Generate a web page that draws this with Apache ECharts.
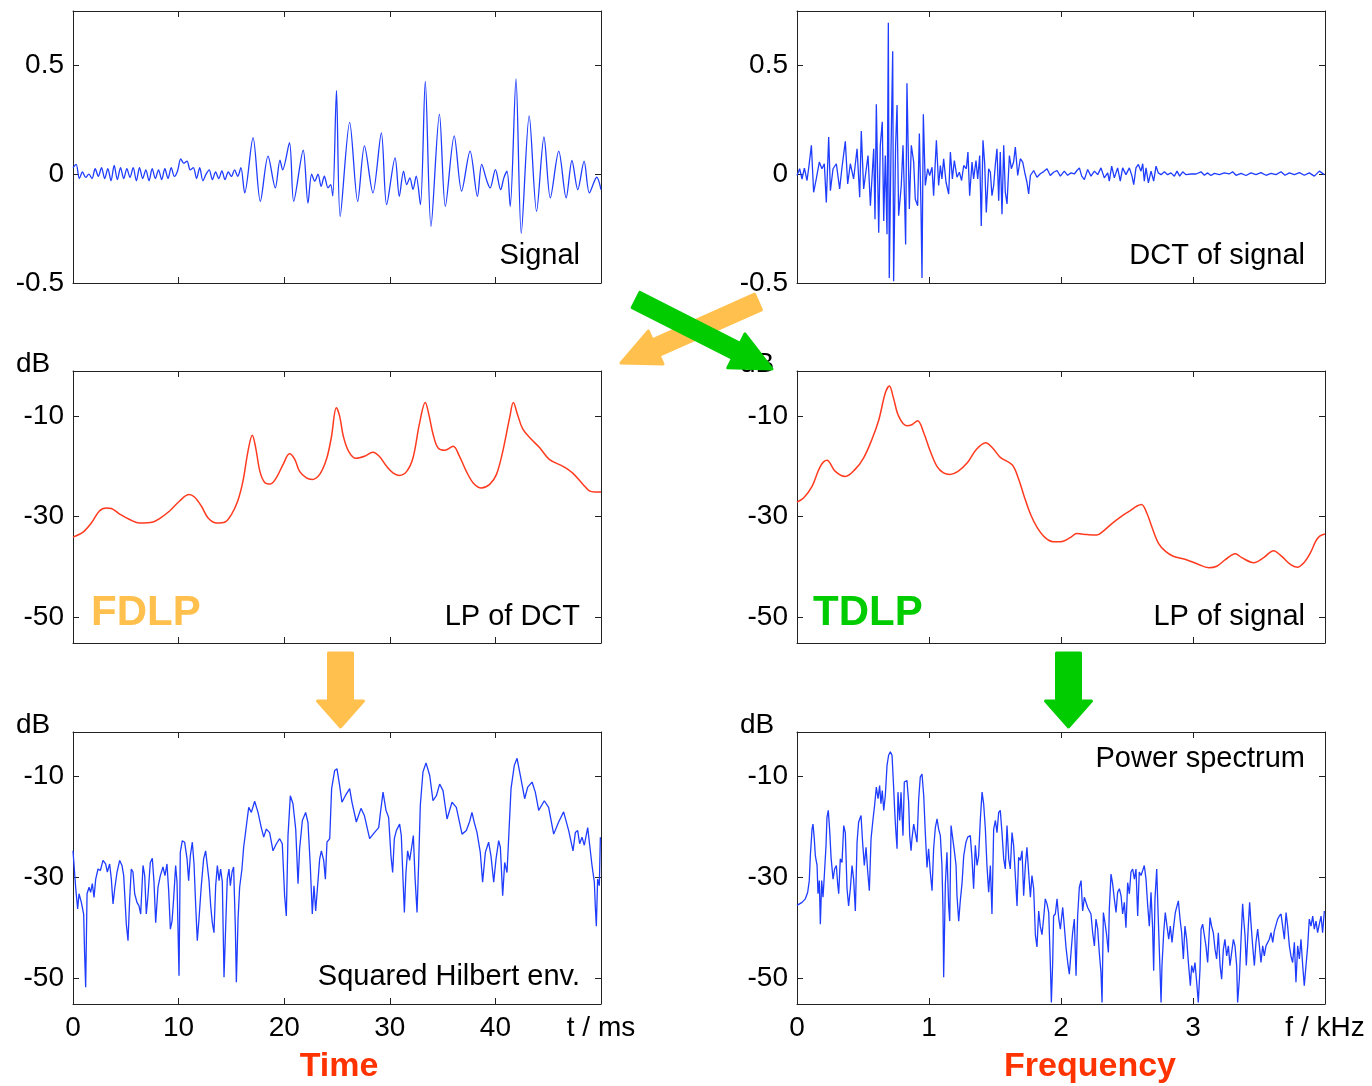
<!DOCTYPE html>
<html>
<head>
<meta charset="utf-8">
<script src="https://cdn.jsdelivr.net/npm/echarts@6/dist/echarts.min.js"></script>
<style>
  html, body { margin: 0; padding: 0; background: #fff; }
  #chart { width: 1372px; height: 1086px; }
</style>
</head>
<body>
<div id="chart"></div>
<script>
// ---- tick labels ----
const timeTicks = [0, 10, 20, 30, 40, 50];
const freqTicks = [0, 1, 2, 3, 4];
const sigTicks = [-0.5, 0, 0.5];
const dbTicks = [-50, -30, -10];

// ---- Signal (t in ms) ----
const sigT = [0, 0.3, 0.6, 0.9, 1.2, 1.5, 1.8, 2.1, 2.4, 2.7, 3.0, 3.3, 3.6, 3.9, 4.2, 4.5, 4.8, 5.1, 5.4, 5.7,
  6.0, 6.3, 6.6, 6.9, 7.2, 7.5, 7.8, 8.1, 8.4, 8.7, 9.0, 9.3, 9.6, 9.9, 10.2, 10.5, 10.8, 11.1, 11.4, 11.7,
  12.0, 12.3, 12.6, 12.9, 13.2, 13.5, 13.8, 14.1, 14.4, 14.7, 15.0, 15.3, 15.6, 15.9,
  16.26, 17.05, 17.74, 18.47, 19.16, 19.6, 19.85, 20.5, 20.9, 21.8, 22.25, 22.6, 22.9, 23.2, 23.5, 23.8, 24.15, 24.4, 24.6,
  24.95, 25.3, 26.2, 26.96, 27.6, 28.4, 29.2, 29.7, 30.5, 30.9, 31.3, 31.6, 31.9, 32.2, 32.5, 32.9,
  33.36, 33.9, 34.7, 35.26, 36.1, 36.8, 37.6, 38.3, 38.7, 39.2, 39.5, 40.0, 40.5, 40.8, 41.1, 41.4,
  41.95, 42.45, 43.2, 43.9, 44.6, 45.2, 46.0, 46.7, 47.25, 47.8, 48.4, 48.9, 49.6, 50.0];
const sigV = [0.03, 0.045, -0.02, 0.01, -0.015, 0.0, -0.02, 0.025, -0.01, 0.03, -0.02, 0.025, -0.03, 0.04, -0.025, 0.03, -0.02, 0.025, -0.015, 0.03,
  -0.03, 0.03, -0.02, 0.02, -0.03, 0.025, -0.02, 0.02, -0.025, 0.025, -0.02, 0.03, -0.01, 0.015, 0.07, 0.05, 0.06, 0.02, 0.03, -0.02,
  0.03, -0.03, 0.0, 0.02, -0.025, 0.01, -0.02, 0.015, -0.025, 0.01, -0.01, 0.02, -0.01, 0.03,
  -0.086, 0.168, -0.125, 0.083, -0.063, 0.065, 0.02, 0.145, -0.125, 0.11, -0.133, 0.0, -0.032, 0.0, -0.056, -0.009, -0.063, -0.048, -0.1,
  0.385, -0.194, 0.238, -0.125, 0.13, -0.086, 0.19, -0.14, 0.075, -0.102, 0.014, -0.048, -0.017, -0.07, -0.009, -0.14,
  0.427, -0.24, 0.276, -0.148, 0.176, -0.078, 0.106, -0.102, 0.045, -0.032, -0.063, 0.021, -0.071, -0.017, 0.014, -0.148,
  0.438, -0.272, 0.268, -0.171, 0.171, -0.109, 0.106, -0.109, 0.063, -0.071, 0.06, -0.086, -0.014, -0.071];

// ---- DCT of signal (kHz) ----
const dctF = [0, 0.02, 0.038, 0.056, 0.076, 0.091, 0.109, 0.126, 0.146, 0.169, 0.189, 0.207, 0.222, 0.24, 0.253, 0.273, 0.298,
  0.323, 0.341, 0.366, 0.384, 0.404, 0.429, 0.455, 0.475, 0.487, 0.505, 0.538, 0.556, 0.581, 0.591, 0.601, 0.619, 0.631,
  0.646, 0.657, 0.669, 0.682, 0.692, 0.699, 0.712, 0.725, 0.732, 0.747, 0.758, 0.77, 0.79, 0.803, 0.816, 0.823, 0.833,
  0.851, 0.866, 0.884, 0.896, 0.914, 0.927, 0.939, 0.947, 0.957, 0.972, 0.99, 1.005, 1.023, 1.035, 1.056, 1.073, 1.086,
  1.098, 1.111, 1.129, 1.149, 1.162, 1.177, 1.192, 1.212, 1.23, 1.247, 1.263, 1.283, 1.295, 1.308, 1.326, 1.338, 1.356,
  1.369, 1.384, 1.396, 1.409, 1.422, 1.434, 1.452, 1.465, 1.477, 1.49, 1.503, 1.515, 1.528, 1.54, 1.553, 1.566, 1.578,
  1.591, 1.609, 1.624, 1.641, 1.654, 1.672, 1.692, 1.71, 1.725, 1.742, 1.755, 1.768, 1.793, 1.818, 1.843, 1.869, 1.894,
  1.919, 1.944, 1.97, 1.995, 2.025, 2.05, 2.076, 2.101, 2.121, 2.139, 2.157, 2.177, 2.202, 2.227, 2.253, 2.278, 2.303,
  2.328, 2.354, 2.366, 2.384, 2.404, 2.429, 2.449, 2.467, 2.492, 2.518, 2.538, 2.551, 2.568, 2.586, 2.606, 2.619, 2.631,
  2.644, 2.662, 2.682, 2.702, 2.72, 2.737, 2.758, 2.783, 2.808, 2.833, 2.859, 2.879, 2.899, 2.922, 2.947, 2.985, 3.023,
  3.061, 3.086, 3.111, 3.136, 3.162, 3.2, 3.237, 3.275, 3.3, 3.326, 3.364, 3.402, 3.439, 3.477, 3.515, 3.553, 3.591,
  3.629, 3.667, 3.697, 3.73, 3.768, 3.806, 3.843, 3.881, 3.919, 3.957, 3.995];
const dctV = [-0.006, 0.025, -0.022, 0.028, -0.029, 0.04, 0.133, -0.083, -0.022, 0.056, 0.025, 0.048, -0.13, 0.171, -0.076, 0.025, 0.048,
  -0.068, 0.032, 0.151, -0.045, 0.048, -0.022, 0.117, -0.106, 0.198, -0.068, 0.086, -0.145, 0.117, -0.207, 0.321, -0.269, 0.133,
  0.241, -0.215, 0.086, -0.276, 0.696, -0.477, 0.102, 0.565, -0.492, 0.133, 0.318, -0.191, -0.052, 0.133, -0.137, -0.323, 0.418,
  -0.16, 0.133, 0.056, -0.114, -0.145, 0.187, -0.145, -0.477, 0.275, -0.052, 0.025, -0.006, 0.032, -0.099, 0.156, -0.052, 0.04,
  -0.022, 0.071, -0.037, -0.091, 0.102, -0.022, 0.063, -0.014, 0.009, -0.029, 0.04, 0.025, 0.102, -0.099, 0.056, -0.022, 0.063,
  -0.022, 0.086, -0.238, 0.156, 0.048, -0.176, 0.025, 0.009, -0.099, -0.052, 0.048, 0.117, -0.122, 0.102, -0.184, 0.133, -0.083,
  -0.137, 0.086, 0.025, 0.056, 0.125, -0.006, 0.071, 0.056, 0.009, -0.037, -0.091, -0.006, 0.017, -0.014, 0.002, 0.012, 0.025,
  -0.006, 0.009, 0.017, -0.009, 0.014, -0.005, 0.006, 0.001, 0.017, 0.029, -0.009, -0.025, 0.022, -0.009, 0.014, -0.002, 0.029,
  -0.017, 0.006, -0.032, 0.037, -0.017, 0.029, -0.032, 0.029, -0.002, 0.029, -0.009, -0.048, 0.029, 0.045, 0.014, 0.048, -0.032,
  0.029, -0.04, 0.014, -0.032, 0.037, 0.006, -0.002, 0.011, -0.002, 0.006, -0.009, 0.014, -0.009, 0.011, -0.002, 0.001, 0.001,
  0.011, -0.005, 0.006, -0.006, 0.004, -0.002, 0.006, 0.001, 0.011, -0.005, 0.004, -0.006, 0.006, -0.002, 0.007, -0.005, 0.004,
  -0.002, 0.011, -0.005, 0.006, -0.002, 0.007, -0.005, 0.006, -0.009, 0.014, -0.002];

// ---- LP of DCT (dB over time) ----
const lpdT = [0, 0.95, 1.74, 2.5, 3.16, 3.63, 4.42, 5.37, 6.31, 7.58, 8.2, 9.15, 10.1, 10.98, 11.5, 12.15, 12.8, 13.6, 14.4,
  15.0, 15.6, 16.1, 16.57, 16.98, 17.3, 17.7, 18.15, 18.7, 19.25, 19.9, 20.5, 21.0, 21.46, 22.1, 22.66, 23.36, 24.0, 24.46,
  24.94, 25.25, 25.6, 26.1, 26.8, 27.6, 28.4, 29.0, 29.7, 30.3, 30.9, 31.6, 32.2, 32.8, 33.36, 33.7, 34.1, 34.56, 35.2, 36.0,
  36.6, 37.25, 37.9, 38.67, 39.46, 40.1, 40.7, 41.35, 41.7, 42.1, 42.6, 43.4, 44.2, 45.1, 46.4, 47.3, 48.3, 48.9, 49.4, 50];
const lpdV = [-34.1, -33.1, -31.3, -28.9, -28.3, -28.4, -29.5, -30.6, -31.3, -31.1, -30.4, -28.9, -26.9, -25.6, -26.1, -27.9, -30.3, -31.3, -31.1,
  -29.6, -26.9, -22.9, -17.0, -13.8, -16.3, -21.0, -23.2, -23.5, -22.3, -19.6, -17.5, -18.6, -21.0, -22.3, -22.6, -21.6, -18.6, -14.3,
  -8.3, -10.0, -14.0, -17.0, -18.4, -18.0, -17.2, -18.0, -20.0, -21.3, -21.8, -21.0, -18.3, -11.6, -7.3, -9.7, -13.6, -16.3, -16.8, -16.0,
  -18.0, -21.0, -23.3, -24.3, -23.6, -21.6, -17.0, -10.3, -7.3, -9.7, -12.6, -14.6, -16.3, -18.6, -20.0, -21.3, -23.6, -24.9, -25.1, -25.1];

// ---- LP of signal (dB over frequency) ----
const lpsF = [0, 0.05, 0.114, 0.177, 0.227, 0.29, 0.366, 0.44, 0.505, 0.568, 0.62, 0.67, 0.7, 0.73, 0.77, 0.83, 0.87, 0.914, 0.96,
  1.01, 1.06, 1.11, 1.16, 1.22, 1.29, 1.36, 1.43, 1.48, 1.54, 1.63, 1.68, 1.72, 1.77, 1.82, 1.88, 1.94, 2.0, 2.07, 2.12, 2.2,
  2.27, 2.32, 2.39, 2.45, 2.525, 2.576, 2.61, 2.65, 2.69, 2.74, 2.79, 2.85, 2.95, 3.03, 3.12, 3.18, 3.245, 3.32, 3.37, 3.46,
  3.535, 3.61, 3.67, 3.74, 3.79, 3.84, 3.89, 3.93, 3.96, 4.0];
const lpsV = [-27.1, -26.3, -24.0, -20.0, -18.8, -21.0, -22.0, -20.6, -18.3, -14.6, -10.7, -5.3, -4.0, -6.3, -10.0, -11.9, -11.7, -10.9, -13.3,
  -17.0, -20.0, -21.3, -21.6, -21.0, -19.3, -16.6, -15.3, -16.3, -18.2, -19.7, -22.6, -25.9, -29.6, -32.2, -34.2, -35.0, -35.0, -34.2, -33.4, -33.6,
  -33.7, -32.9, -31.3, -30.1, -28.8, -27.9, -27.6, -29.3, -32.2, -35.4, -36.9, -37.9, -38.6, -39.4, -40.2, -39.9, -38.6, -37.4, -38.2, -39.2,
  -38.2, -36.8, -37.9, -39.6, -40.1, -39.2, -37.2, -34.9, -33.9, -33.5];

// ---- Squared Hilbert envelope (dB over time) ----
const henvT = [0, 0.25, 0.44, 0.57, 0.79, 1.01, 1.1, 1.2, 1.33, 1.52, 1.67, 1.83, 1.99, 2.15, 2.37, 2.59, 2.84, 3.09, 3.25, 3.47,
  3.63, 3.79, 3.95, 4.17, 4.42, 4.64, 4.8, 5.05, 5.21, 5.37, 5.52, 5.68, 5.84, 6.06, 6.25, 6.41, 6.63, 6.79, 6.94, 7.1,
  7.32, 7.51, 7.67, 7.83, 8.05, 8.27, 8.52, 8.71, 8.9, 9.06, 9.22, 9.38, 9.53, 9.72, 9.85, 10.04, 10.16, 10.35, 10.57, 10.8,
  10.95, 11.11, 11.3, 11.46, 11.62, 11.77, 11.93, 12.15, 12.37, 12.56, 12.72, 12.88, 13.04, 13.19, 13.35, 13.51, 13.67, 13.83,
  13.98, 14.14, 14.3, 14.46, 14.61, 14.77, 14.9, 15.06, 15.21, 15.37, 15.47, 15.63, 15.78, 16.0, 16.16, 16.32, 16.48, 16.64,
  16.89, 17.2, 17.52, 17.83, 18.06, 18.31, 18.62, 18.94, 19.26, 19.57, 19.82, 20.04, 20.2, 20.36, 20.58, 20.83, 21.09, 21.31,
  21.46, 21.72, 22.03, 22.25, 22.47, 22.66, 22.82, 22.98, 23.14, 23.36, 23.52, 23.74, 23.9, 24.05, 24.31, 24.49, 24.78,
  25.0, 25.25, 25.47, 25.79, 26.2, 26.42, 26.83, 27.27, 27.59, 28.09, 28.54, 28.95, 29.1, 29.36, 29.64, 29.89, 30.11, 30.27,
  30.43, 30.62, 30.93, 31.09, 31.25, 31.38, 31.53, 31.69, 31.88, 32.07, 32.23, 32.39, 32.58, 32.73, 32.89, 33.14, 33.43,
  33.78, 34.09, 34.41, 34.72, 35.04, 35.42, 35.89, 36.3, 36.84, 37.25, 37.56, 37.78, 38.0, 38.26, 38.57, 38.79, 39.05,
  39.36, 39.58, 39.84, 40.06, 40.31, 40.47, 40.69, 40.88, 41.1, 41.26, 41.48, 41.79, 42.05, 42.36, 42.77, 43.06, 43.47,
  43.78, 44.1, 44.63, 45.04, 45.52, 45.99, 46.46, 46.94, 47.35, 47.57, 47.79, 47.98, 48.2, 48.42, 48.74, 48.93, 49.15,
  49.37, 49.46, 49.56, 49.68, 49.84, 49.94];
const henvV = [-24.7, -31.9, -36.2, -33.2, -34.9, -37.2, -45.1, -51.7, -33.2, -31.9, -32.9, -31.2, -33.9, -30.3, -28.3, -28.6, -26.6, -27.3, -28.9, -27.3,
  -30.3, -35.2, -32.2, -28.9, -26.6, -27.6, -29.6, -39.2, -42.5, -34.2, -28.3, -28.9, -33.2, -34.9, -35.6, -37.2, -27.6, -29.6, -37.2, -33.6,
  -27.0, -26.2, -30.9, -38.9, -31.9, -29.6, -27.9, -29.6, -27.3, -32.6, -40.2, -38.6, -34.2, -27.6, -30.9, -49.4, -25.0, -22.7, -23.0, -26.3,
  -30.6, -25.7, -23.0, -27.3, -35.6, -42.5, -38.2, -31.6, -26.3, -24.7, -27.6, -30.6, -35.6, -38.9, -40.9, -31.6, -27.6, -30.6,
  -28.3, -30.9, -49.7, -39.6, -30.3, -28.3, -31.6, -28.9, -27.9, -39.6, -50.7, -38.2, -31.9, -28.3, -24.0, -21.4, -18.7, -16.1,
  -17.1, -14.9, -17.1, -20.1, -22.0, -20.4, -21.1, -24.7, -23.3, -22.3, -23.3, -33.6, -37.6, -21.7, -13.8, -15.4, -20.4, -31.2,
  -24.3, -18.7, -17.1, -19.1, -27.6, -37.2, -31.6, -36.6, -36.9, -26.3, -24.7, -26.6, -30.3, -23.0, -22.3, -12.4, -8.8,
  -8.5, -11.8, -15.1, -13.8, -12.4, -15.1, -19.0, -16.3, -17.7, -22.3, -21.1, -20.1, -17.4, -13.1, -16.7, -18.1, -25.7, -29.0,
  -22.3, -20.7, -19.4, -21.7, -30.3, -36.9, -29.0, -24.7, -26.6, -24.0, -21.7, -30.0, -36.9, -27.3, -15.7, -9.1, -7.3,
  -9.8, -14.8, -13.8, -11.5, -12.8, -18.4, -15.1, -16.1, -21.4, -20.7, -18.9, -17.1, -19.1, -21.1, -25.0, -30.9, -25.0,
  -23.0, -25.7, -30.9, -26.3, -22.7, -24.0, -33.6, -27.0, -29.0, -22.0, -12.4, -7.8, -6.4, -9.8, -14.4, -12.1, -11.1,
  -13.1, -16.7, -14.8, -16.1, -21.4, -19.0, -17.0, -20.7, -24.7, -21.1, -20.7, -23.3, -22.0, -23.6, -20.1, -23.6, -27.6,
  -30.9, -35.6, -39.6, -30.3, -31.6, -22.0];

// ---- Power spectrum (dB over frequency) ----
const psF = [0, 0.038, 0.063, 0.081, 0.093, 0.101, 0.114, 0.121, 0.131, 0.139, 0.152, 0.159, 0.169, 0.177, 0.187, 0.197, 0.207,
  0.22, 0.227, 0.237, 0.247, 0.258, 0.273, 0.285, 0.298, 0.308, 0.316, 0.328, 0.341, 0.354, 0.366, 0.379, 0.391, 0.404, 0.417,
  0.429, 0.442, 0.455, 0.467, 0.485, 0.497, 0.51, 0.523, 0.535, 0.548, 0.561, 0.576, 0.588, 0.601, 0.614, 0.626, 0.636, 0.646,
  0.657, 0.669, 0.682, 0.694, 0.707, 0.72, 0.732, 0.74, 0.747, 0.758, 0.765, 0.778, 0.788, 0.803, 0.813, 0.833, 0.846, 0.854,
  0.864, 0.871, 0.884, 0.896, 0.909, 0.922, 0.934, 0.947, 0.96, 0.972, 0.985, 0.997, 1.01, 1.023, 1.035, 1.048, 1.061, 1.073,
  1.086, 1.098, 1.106, 1.111, 1.124, 1.136, 1.149, 1.157, 1.167, 1.179, 1.192, 1.205, 1.212, 1.225, 1.237, 1.25, 1.263, 1.28,
  1.293, 1.313, 1.326, 1.338, 1.351, 1.364, 1.376, 1.389, 1.402, 1.414, 1.427, 1.439, 1.452, 1.465, 1.477, 1.49, 1.503, 1.515,
  1.528, 1.54, 1.553, 1.566, 1.578, 1.591, 1.604, 1.616, 1.629, 1.641, 1.654, 1.667, 1.679, 1.692, 1.705, 1.717, 1.73, 1.742,
  1.755, 1.768, 1.78, 1.793, 1.806, 1.818, 1.831, 1.843, 1.856, 1.869, 1.881, 1.894, 1.907, 1.919, 1.927, 1.937, 1.944, 1.957,
  1.97, 1.982, 1.995,
  2.013, 2.025, 2.038, 2.051, 2.063, 2.076, 2.088, 2.101, 2.114, 2.126, 2.139, 2.152, 2.164, 2.177, 2.189, 2.202, 2.215,
  2.227, 2.24, 2.253, 2.265, 2.278, 2.29, 2.303, 2.311, 2.321, 2.333, 2.346, 2.359, 2.366, 2.379, 2.391, 2.404, 2.417, 2.429,
  2.442, 2.455, 2.467, 2.48, 2.492, 2.505, 2.518, 2.53, 2.543, 2.556, 2.568, 2.581, 2.593, 2.606, 2.619, 2.631, 2.644, 2.657,
  2.669, 2.682, 2.694, 2.702, 2.712, 2.725, 2.737, 2.75, 2.758, 2.765, 2.778, 2.79, 2.803, 2.816, 2.828, 2.841, 2.854, 2.866,
  2.879, 2.889, 2.902, 2.914, 2.927, 2.939, 2.952, 2.965, 2.98, 2.99, 3.003, 3.015, 3.028, 3.04, 3.053, 3.061, 3.073, 3.086,
  3.098, 3.111, 3.129, 3.141, 3.154, 3.167, 3.179, 3.192, 3.205, 3.217, 3.23, 3.242, 3.255, 3.268, 3.28, 3.293, 3.306, 3.318,
  3.331, 3.338, 3.351, 3.364, 3.376, 3.384, 3.394, 3.404, 3.419, 3.429, 3.439, 3.452, 3.465, 3.477, 3.49, 3.503, 3.515, 3.528,
  3.54, 3.553, 3.566, 3.578, 3.591, 3.604, 3.616, 3.629, 3.641, 3.654, 3.667, 3.679, 3.692, 3.705, 3.717, 3.73, 3.742, 3.755,
  3.768, 3.78, 3.793, 3.806, 3.818, 3.831, 3.843, 3.856, 3.869, 3.881, 3.894, 3.907, 3.919, 3.932, 3.944, 3.957, 3.97, 3.982, 3.995];
const psV = [-35.5, -34.9, -34.2, -32.9, -30.6, -25.7, -20.4, -19.4, -22.3, -25.7, -27.6, -33.2, -30.6, -39.2, -30.6, -33.9, -29.6,
  -23.6, -18.1, -16.7, -20.4, -26.0, -30.3, -28.3, -27.6, -31.2, -33.2, -26.3, -27.0, -19.7, -21.1, -32.2, -35.6, -32.2, -27.6,
  -30.3, -36.6, -23.0, -19.0, -17.7, -23.0, -27.6, -24.0, -28.6, -32.6, -22.3, -18.4, -15.7, -12.1, -14.4, -11.8, -15.4, -12.8,
  -16.7, -13.8, -7.8, -5.8, -5.1, -5.8, -12.1, -16.7, -20.1, -24.3, -13.1, -18.7, -13.1, -21.7, -11.1, -10.8, -15.1, -21.7,
  -24.7, -22.3, -19.4, -21.1, -23.0, -14.4, -10.1, -9.5, -13.8, -21.1, -28.0, -24.3, -29.0, -32.6, -24.3, -20.1, -18.4, -20.4,
  -21.7, -27.6, -36.2, -49.7, -31.2, -25.0, -35.6, -38.6, -19.7, -19.4, -24.7, -27.6, -33.6, -38.6, -34.6, -31.2, -25.7, -23.0,
  -22.0, -21.7, -26.3, -32.2, -23.6, -27.6, -25.7, -18.4, -13.1, -15.4, -20.4, -27.6, -32.9, -27.6, -37.2, -20.4, -18.7, -21.1,
  -17.1, -16.7, -21.1, -26.3, -28.3, -19.7, -26.3, -28.3, -21.1, -23.6, -23.6, -35.6, -26.0, -26.6, -24.7, -33.6, -27.6, -24.0,
  -29.0, -33.9, -29.6, -32.2, -41.4, -43.7, -36.6, -39.6, -41.3, -37.9, -34.2, -35.2, -36.9, -46.8, -54.7, -46.8, -37.6, -37.2,
  -34.2, -37.9, -40.2,
  -35.9, -39.6, -43.8, -46.8, -49.1, -44.8, -40.9, -38.2, -49.4, -37.6, -31.9, -30.6, -36.6, -33.9, -33.6, -35.9, -36.2,
  -37.2, -40.9, -43.5, -38.2, -40.2, -44.8, -48.8, -54.7, -36.9, -38.9, -41.4, -44.8, -36.2, -29.3, -31.2, -34.2, -36.9, -32.9,
  -32.2, -33.6, -37.2, -34.9, -39.9, -31.0, -33.2, -28.9, -28.3, -30.3, -28.3, -37.6, -28.9, -29.6, -28.6, -27.6, -30.3, -35.6,
  -39.6, -32.9, -39.9, -48.4, -34.2, -28.3, -38.2, -48.1, -54.7, -47.4, -40.9, -36.9, -39.6, -42.2, -39.6, -42.8, -39.6, -36.9,
  -35.6, -34.6, -38.2, -40.9, -46.1, -39.6, -42.2, -46.8, -51.4, -47.4, -48.8, -46.8, -50.7, -54.7, -48.1, -40.2, -39.2, -41.4,
  -43.5, -46.8, -37.9, -39.6, -40.9, -44.2, -46.1, -40.9, -47.4, -50.1, -44.2, -42.2, -45.5, -43.5, -47.4, -44.8, -42.2, -43.5,
  -47.4, -54.7, -50.1, -42.2, -35.2, -38.2, -41.4, -47.4, -39.6, -34.9, -38.9, -43.5, -47.4, -42.8, -40.2, -43.5, -46.8, -43.5,
  -45.5, -43.5, -43.5, -42.2, -40.9, -42.8, -40.6, -40.9, -38.2, -37.6, -37.2, -39.6, -42.2, -36.9, -39.6, -43.5, -45.5, -46.8,
  -42.8, -50.7, -43.5, -46.1, -42.2, -47.4, -51.4, -47.4, -43.5, -38.2, -39.6, -37.6, -40.2, -38.6, -40.9, -39.2, -37.6, -40.9, -36.6];

const FONT = '"Liberation Sans", Arial, sans-serif';
const BLUE = '#1f3dff';
const RED = '#ff3b1f';
const ORANGE = '#ffc04d';
const GREEN = '#00cc00';
const TITLE_RED = '#ff3300';
const AXIS = '#222';

const panels = [
  { left: 73, top: 11, xMax: 50, xTicks: timeTicks, yMin: -0.5, yMax: 0.75, yTicks: sigTicks, xs: sigT, ys: sigV, color: BLUE, smooth: 0.3 },
  { left: 797, top: 11, xMax: 4, xTicks: freqTicks, yMin: -0.5, yMax: 0.75, yTicks: sigTicks, xs: dctF, ys: dctV, color: BLUE },
  { left: 73, top: 371, xMax: 50, xTicks: timeTicks, yMin: -55.2, yMax: -1, yTicks: dbTicks, xs: lpdT, ys: lpdV, color: RED, smooth: 0.35 },
  { left: 797, top: 371, xMax: 4, xTicks: freqTicks, yMin: -55.2, yMax: -1, yTicks: dbTicks, xs: lpsF, ys: lpsV, color: RED, smooth: 0.35 },
  { left: 73, top: 732, xMax: 50, xTicks: timeTicks, yMin: -55, yMax: -1.2, yTicks: dbTicks, xs: henvT, ys: henvV, color: BLUE, showX: true, endName: 't / ms' },
  { left: 797, top: 732, xMax: 4, xTicks: freqTicks, yMin: -55, yMax: -1.2, yTicks: dbTicks, xs: psF, ys: psV, color: BLUE, showX: true, endName: 'f / kHz' }
];

const labelStyle = { color: '#000', fontSize: 28, fontFamily: FONT };
const tickStyle = { show: true, inside: true, length: 6, lineStyle: { color: AXIS, width: 1 } };
const lineStyle = { show: true, onZero: false, lineStyle: { color: AXIS, width: 1 } };

const grid = [], xAxis = [], yAxis = [], series = [];
panels.forEach((p, i) => {
  grid.push({ left: p.left, top: p.top, width: 528, height: 272, containLabel: false });
  xAxis.push({
    gridIndex: i, type: 'value', min: 0, max: p.xMax, position: 'bottom',
    axisLine: lineStyle, splitLine: { show: false },
    axisTick: Object.assign({ customValues: p.xTicks }, tickStyle),
    axisLabel: Object.assign({
      show: !!p.showX, customValues: p.xTicks, margin: 10,
      formatter: v => (v === p.xMax ? p.endName : String(v))
    }, labelStyle)
  });
  xAxis.push({
    gridIndex: i, type: 'value', min: 0, max: p.xMax, position: 'top',
    axisLine: lineStyle, splitLine: { show: false },
    axisTick: Object.assign({ customValues: p.xTicks }, tickStyle),
    axisLabel: { show: false }
  });
  yAxis.push({
    gridIndex: i, type: 'value', min: p.yMin, max: p.yMax, position: 'left',
    axisLine: lineStyle, splitLine: { show: false },
    axisTick: Object.assign({ customValues: p.yTicks }, tickStyle),
    axisLabel: Object.assign({ customValues: p.yTicks, margin: 9 }, labelStyle)
  });
  yAxis.push({
    gridIndex: i, type: 'value', min: p.yMin, max: p.yMax, position: 'right',
    axisLine: lineStyle, splitLine: { show: false },
    axisTick: Object.assign({ customValues: p.yTicks }, tickStyle),
    axisLabel: { show: false }
  });
  series.push({
    type: 'line', xAxisIndex: 2 * i, yAxisIndex: 2 * i,
    data: p.xs.map((x, k) => [x, p.ys[k]]),
    showSymbol: false, smooth: p.smooth || false, clip: true,
    lineStyle: { color: p.color, width: p.color === RED ? 1.5 : 1.3 },
    itemStyle: { color: p.color }
  });
});

function text(str, x, y, align, font, fill) {
  return {
    type: 'text', z: 50,
    style: { text: str, x: x, y: y, align: align, verticalAlign: 'middle', font: font, fill: fill || '#000' }
  };
}

function arrow(x0, y0, x1, y1, shaftW, headW, headL, color) {
  const len = Math.hypot(x1 - x0, y1 - y0);
  const ux = (x1 - x0) / len, uy = (y1 - y0) / len;
  const px = -uy, py = ux;
  const bx = x1 - ux * headL, by = y1 - uy * headL;
  const s = shaftW / 2, h = headW / 2;
  return {
    type: 'polygon', z: 100,
    shape: { points: [
      [x0 + px * s, y0 + py * s], [bx + px * s, by + py * s], [bx + px * h, by + py * h], [x1, y1],
      [bx - px * h, by - py * h], [bx - px * s, by - py * s], [x0 - px * s, y0 - py * s]
    ] },
    style: { fill: color, stroke: color, lineWidth: 3, lineJoin: 'round' }
  };
}

const F29 = '29px ' + FONT;
const F28 = '28px ' + FONT;
const graphic = [
  text('Signal', 580, 256, 'right', F29),
  text('DCT of signal', 1305, 256, 'right', F29),
  text('LP of DCT', 580, 617, 'right', F29),
  text('LP of signal', 1305, 617, 'right', F29),
  text('Squared Hilbert env.', 580, 977, 'right', F29),
  text('Power spectrum', 1305, 759, 'right', F29),
  text('dB', 33, 364, 'center', F28),
  text('dB', 33, 725, 'center', F28),
  text('dB', 757, 364, 'center', F28),
  text('dB', 757, 725, 'center', F28),
  text('FDLP', 91, 613, 'left', 'bold 42px ' + FONT, ORANGE),
  text('TDLP', 813, 613, 'left', 'bold 42px ' + FONT, GREEN),
  text('Time', 339, 1067, 'center', 'bold 34px ' + FONT, TITLE_RED),
  text('Frequency', 1090, 1067, 'center', 'bold 34px ' + FONT, TITLE_RED),
  arrow(758, 302, 621, 363, 17, 36, 38, ORANGE),
  arrow(636, 300, 772, 369, 17, 38, 40, GREEN),
  arrow(340.5, 653, 340.5, 727, 24, 46, 26, ORANGE),
  arrow(1068.5, 653, 1068.5, 727, 24, 46, 26, GREEN)
];

const chart = echarts.init(document.getElementById('chart'));
chart.setOption({
  animation: false,
  backgroundColor: '#fff',
  grid: grid,
  xAxis: xAxis,
  yAxis: yAxis,
  series: series,
  graphic: graphic
});
</script>
</body>
</html>
